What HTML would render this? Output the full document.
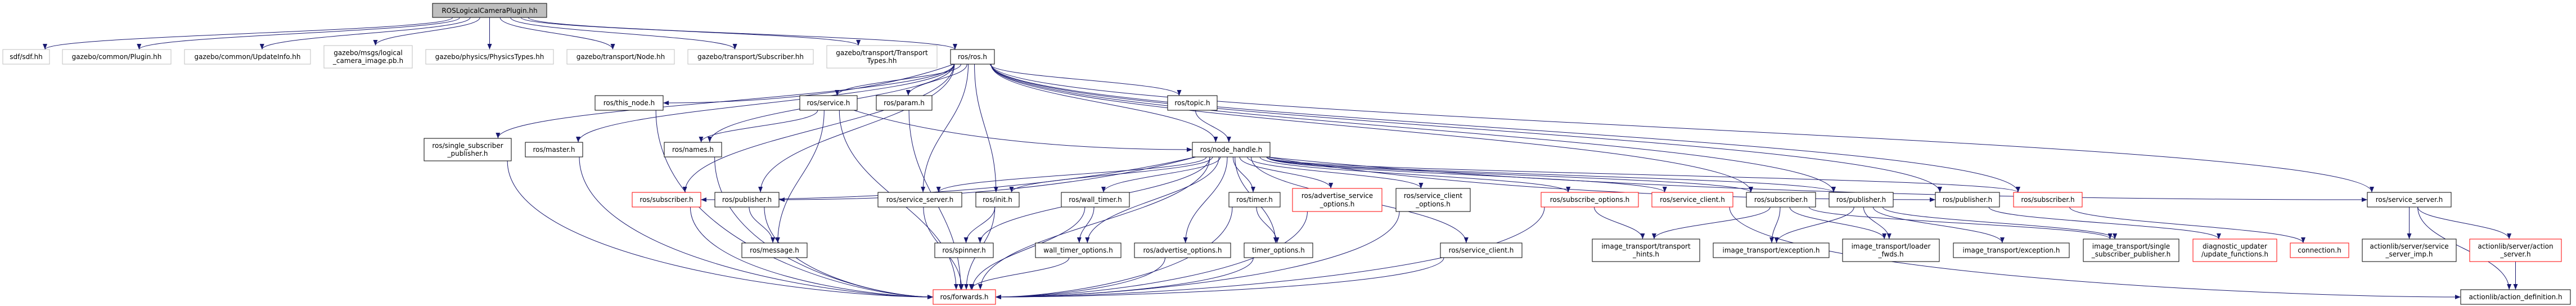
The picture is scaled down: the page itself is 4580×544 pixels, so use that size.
<!DOCTYPE html>
<html><head><meta charset="utf-8">
<style>
html,body{margin:0;padding:0;background:#fff;}
svg{display:block;}
text{font-family:"DejaVu Sans","Liberation Sans",sans-serif;font-size:12px;fill:#000;}
</style></head>
<body>
<svg id="g" width="4580" height="544" viewBox="0 0 4580 544" xmlns="http://www.w3.org/2000/svg">
<defs>
<marker id="ah" viewBox="0 0 10 10" refX="10" refY="5" markerWidth="10" markerHeight="10" markerUnits="userSpaceOnUse" orient="auto">
<path d="M0,1 L10,5 L0,9 z" fill="#191970"/>
</marker>
</defs>
<g id="edges" fill="none" stroke="#191970" stroke-width="1"></g>
<g id="nodes">
<rect x="769" y="6" width="203" height="25" fill="#bfbfbf" stroke="#000"/><text x="870.5" y="23" text-anchor="middle">ROSLogicalCameraPlugin.hh</text>

<rect x="5" y="88" width="83" height="26" fill="#fff" stroke="#bfbfbf"/><text x="46.5" y="105" text-anchor="middle">sdf/sdf.hh</text>
<rect x="111" y="88" width="193" height="26" fill="#fff" stroke="#bfbfbf"/><text x="207.5" y="105" text-anchor="middle">gazebo/common/Plugin.hh</text>
<rect x="328" y="88" width="224" height="26" fill="#fff" stroke="#bfbfbf"/><text x="440" y="105" text-anchor="middle">gazebo/common/UpdateInfo.hh</text>
<rect x="576" y="81" width="157" height="40" fill="#fff" stroke="#bfbfbf"/><text x="654.5" y="98" text-anchor="middle">gazebo/msgs/logical</text><text x="654.5" y="112" text-anchor="middle">_camera_image.pb.h</text>
<rect x="757" y="88" width="227" height="26" fill="#fff" stroke="#bfbfbf"/><text x="870.5" y="105" text-anchor="middle">gazebo/physics/PhysicsTypes.hh</text>
<rect x="1008" y="88" width="191" height="26" fill="#fff" stroke="#bfbfbf"/><text x="1103.5" y="105" text-anchor="middle">gazebo/transport/Node.hh</text>
<rect x="1223" y="88" width="223" height="26" fill="#fff" stroke="#bfbfbf"/><text x="1334.5" y="105" text-anchor="middle">gazebo/transport/Subscriber.hh</text>
<rect x="1470" y="81" width="196" height="40" fill="#fff" stroke="#bfbfbf"/><text x="1568" y="98" text-anchor="middle">gazebo/transport/Transport</text><text x="1568" y="112" text-anchor="middle">Types.hh</text>
<rect x="1690" y="88" width="78" height="26" fill="#fff" stroke="#000"/><text x="1729" y="105" text-anchor="middle">ros/ros.h</text>

<rect x="1058" y="170" width="121" height="26" fill="#fff" stroke="#000"/><text x="1118.5" y="187" text-anchor="middle">ros/this_node.h</text>
<rect x="1422" y="170" width="102" height="26" fill="#fff" stroke="#000"/><text x="1473" y="187" text-anchor="middle">ros/service.h</text>
<rect x="1558" y="170" width="99" height="26" fill="#fff" stroke="#000"/><text x="1607.5" y="187" text-anchor="middle">ros/param.h</text>
<rect x="2076" y="170" width="88" height="26" fill="#fff" stroke="#000"/><text x="2120" y="187" text-anchor="middle">ros/topic.h</text>

<rect x="754" y="246" width="155" height="40" fill="#fff" stroke="#000"/><text x="831.5" y="263" text-anchor="middle">ros/single_subscriber</text><text x="831.5" y="277" text-anchor="middle">_publisher.h</text>
<rect x="934" y="253" width="102" height="26" fill="#fff" stroke="#000"/><text x="985" y="270" text-anchor="middle">ros/master.h</text>
<rect x="1181" y="253" width="102" height="26" fill="#fff" stroke="#000"/><text x="1232" y="270" text-anchor="middle">ros/names.h</text>
<rect x="2120" y="253" width="138" height="26" fill="#fff" stroke="#000"/><text x="2189" y="270" text-anchor="middle">ros/node_handle.h</text>

<rect x="1124" y="342" width="122" height="26" fill="#fff" stroke="#ff0000"/><text x="1185" y="359" text-anchor="middle">ros/subscriber.h</text>
<rect x="1271" y="342" width="114" height="26" fill="#fff" stroke="#000"/><text x="1328" y="359" text-anchor="middle">ros/publisher.h</text>
<rect x="1561" y="342" width="149" height="26" fill="#fff" stroke="#000"/><text x="1635.5" y="359" text-anchor="middle">ros/service_server.h</text>
<rect x="1735" y="342" width="77" height="26" fill="#fff" stroke="#000"/><text x="1773.5" y="359" text-anchor="middle">ros/init.h</text>
<rect x="1887" y="342" width="121" height="26" fill="#fff" stroke="#000"/><text x="1947.5" y="359" text-anchor="middle">ros/wall_timer.h</text>
<rect x="2185" y="342" width="91" height="26" fill="#fff" stroke="#000"/><text x="2230.5" y="359" text-anchor="middle">ros/timer.h</text>
<rect x="2298" y="335" width="159" height="41" fill="#fff" stroke="#ff0000"/><text x="2377.5" y="352" text-anchor="middle">ros/advertise_service</text><text x="2377.5" y="367" text-anchor="middle">_options.h</text>
<rect x="2482" y="335" width="132" height="41" fill="#fff" stroke="#000"/><text x="2548" y="352" text-anchor="middle">ros/service_client</text><text x="2548" y="367" text-anchor="middle">_options.h</text>
<rect x="2740" y="342" width="173" height="26" fill="#fff" stroke="#ff0000"/><text x="2826.5" y="359" text-anchor="middle">ros/subscribe_options.h</text>
<rect x="2937" y="342" width="144" height="26" fill="#fff" stroke="#ff0000"/><text x="3009" y="359" text-anchor="middle">ros/service_client.h</text>
<rect x="3105" y="342" width="123" height="26" fill="#fff" stroke="#000"/><text x="3166.5" y="359" text-anchor="middle">ros/subscriber.h</text>
<rect x="3252" y="342" width="114" height="26" fill="#fff" stroke="#000"/><text x="3309" y="359" text-anchor="middle">ros/publisher.h</text>
<rect x="3441" y="342" width="114" height="26" fill="#fff" stroke="#000"/><text x="3498" y="359" text-anchor="middle">ros/publisher.h</text>
<rect x="3580" y="342" width="122" height="26" fill="#fff" stroke="#ff0000"/><text x="3641" y="359" text-anchor="middle">ros/subscriber.h</text>
<rect x="4209" y="342" width="149" height="26" fill="#fff" stroke="#000"/><text x="4283.5" y="359" text-anchor="middle">ros/service_server.h</text>

<rect x="1319" y="432" width="116" height="26" fill="#fff" stroke="#000"/><text x="1377" y="449" text-anchor="middle">ros/message.h</text>
<rect x="1662" y="432" width="104" height="26" fill="#fff" stroke="#000"/><text x="1714" y="449" text-anchor="middle">ros/spinner.h</text>
<rect x="1841" y="432" width="152" height="26" fill="#fff" stroke="#000"/><text x="1917" y="449" text-anchor="middle">wall_timer_options.h</text>
<rect x="2017" y="432" width="171" height="26" fill="#fff" stroke="#000"/><text x="2102.5" y="449" text-anchor="middle">ros/advertise_options.h</text>
<rect x="2212" y="432" width="122" height="26" fill="#fff" stroke="#000"/><text x="2273" y="449" text-anchor="middle">timer_options.h</text>
<rect x="2561" y="432" width="145" height="26" fill="#fff" stroke="#000"/><text x="2633.5" y="449" text-anchor="middle">ros/service_client.h</text>
<rect x="2831" y="425" width="191" height="40" fill="#fff" stroke="#000"/><text x="2926.5" y="442" text-anchor="middle">image_transport/transport</text><text x="2926.5" y="456" text-anchor="middle">_hints.h</text>
<rect x="3046" y="432" width="206" height="26" fill="#fff" stroke="#000"/><text x="3149" y="449" text-anchor="middle">image_transport/exception.h</text>
<rect x="3276" y="425" width="172" height="40" fill="#fff" stroke="#000"/><text x="3362" y="442" text-anchor="middle">image_transport/loader</text><text x="3362" y="456" text-anchor="middle">_fwds.h</text>
<rect x="3473" y="432" width="206" height="26" fill="#fff" stroke="#000"/><text x="3576" y="449" text-anchor="middle">image_transport/exception.h</text>
<rect x="3704" y="425" width="170" height="40" fill="#fff" stroke="#000"/><text x="3789" y="442" text-anchor="middle">image_transport/single</text><text x="3789" y="456" text-anchor="middle">_subscriber_publisher.h</text>
<rect x="3899" y="425" width="149" height="40" fill="#fff" stroke="#ff0000"/><text x="3973.5" y="442" text-anchor="middle">diagnostic_updater</text><text x="3973.5" y="456" text-anchor="middle">/update_functions.h</text>
<rect x="4072" y="432" width="104" height="26" fill="#fff" stroke="#ff0000"/><text x="4124" y="449" text-anchor="middle">connection.h</text>
<rect x="4200" y="425" width="167" height="40" fill="#fff" stroke="#000"/><text x="4283.5" y="442" text-anchor="middle">actionlib/server/service</text><text x="4283.5" y="456" text-anchor="middle">_server_imp.h</text>
<rect x="4391" y="425" width="163" height="40" fill="#fff" stroke="#ff0000"/><text x="4472.5" y="442" text-anchor="middle">actionlib/server/action</text><text x="4472.5" y="456" text-anchor="middle">_server.h</text>

<rect x="1659" y="515" width="111" height="26" fill="#fff" stroke="#ff0000"/><text x="1714.5" y="532" text-anchor="middle">ros/forwards.h</text>
<rect x="4375" y="515" width="195" height="26" fill="#fff" stroke="#000"/><text x="4472.5" y="532" text-anchor="middle">actionlib/action_definition.h</text>
</g>
</svg>
<script>
var N={
A:[769,972,6,31],sdf:[5,88,88,114],plugin:[111,304,88,114],update:[328,552,88,114],msgs:[576,733,81,121],
phys:[757,984,88,114],node:[1008,1199,88,114],tsub:[1223,1446,88,114],ttypes:[1470,1666,81,121],ros:[1690,1768,88,114],
thisnode:[1058,1179,170,196],service:[1422,1524,170,196],param:[1558,1657,170,196],topic:[2076,2164,170,196],
ssp:[754,909,246,286],master:[934,1036,253,279],names:[1181,1283,253,279],nh:[2120,2258,253,279],
sub1:[1124,1246,342,368],pub1:[1271,1385,342,368],ss1:[1561,1710,342,368],init:[1735,1812,342,368],wt:[1887,2008,342,368],
timer:[2185,2276,342,368],aso:[2298,2457,335,376],sco:[2482,2614,335,376],subopt:[2740,2913,342,368],sc1:[2937,3081,342,368],
sub2:[3105,3228,342,368],pub2:[3252,3366,342,368],pub3:[3441,3555,342,368],sub3:[3580,3702,342,368],ss2:[4209,4358,342,368],
msg:[1319,1435,432,458],spin:[1662,1766,432,458],wto:[1841,1993,432,458],ao:[2017,2188,432,458],to:[2212,2334,432,458],
sc2:[2561,2706,432,458],th:[2831,3022,425,465],exc1:[3046,3252,432,458],lf:[3276,3448,425,465],exc2:[3473,3679,432,458],
sspub:[3704,3874,425,465],diag:[3899,4048,425,465],conn:[4072,4176,432,458],ssimp:[4200,4367,425,465],as:[4391,4554,425,465],
fwd:[1659,1770,515,541],ad:[4375,4570,515,541]};
var E=[
['A','sdf'],['A','plugin'],['A','update'],['A','msgs'],['A','phys'],['A','node'],['A','tsub'],['A','ttypes'],['A','ros'],
['ros','thisnode','R'],['ros','ssp'],['ros','master'],['ros','names'],['ros','service'],['ros','param'],['ros','topic'],['ros','nh'],
['ros','sub1'],['ros','pub1'],['ros','ss1'],['ros','init'],['ros','sub2'],['ros','pub2'],['ros','pub3'],['ros','sub3'],['ros','ss2'],
['service','names'],['service','msg'],['service','fwd'],['service','nh','L'],['param','fwd'],['topic','nh'],['names','fwd','S'],
['thisnode','fwd','S'],['master','fwd','S'],['ssp','fwd','S'],
['nh','sub1','R'],['nh','pub1','R'],['nh','ss1'],['nh','init'],['nh','spin'],['nh','wt'],['nh','wto'],['nh','timer'],['nh','to'],['nh','ao'],
['nh','aso'],['nh','sco'],['nh','sc2'],['nh','subopt'],['nh','sc1'],['nh','sub2'],['nh','pub2'],['nh','pub3','L'],['nh','sub3'],['nh','ss2','L'],['nh','fwd'],
['sub1','fwd','S'],['pub1','msg'],['pub1','fwd','S'],['ss1','fwd'],['init','spin'],['init','fwd'],['wt','wto'],['wt','fwd'],['timer','to'],['timer','fwd','S'],
['wto','fwd'],['ao','fwd','S'],['to','fwd','S'],['aso','fwd','S'],['sco','fwd','S'],['sc2','fwd','S'],['subopt','fwd','S'],['subopt','th'],['sc1','ad','S'],
['sub2','th'],['sub2','exc1'],['sub2','lf'],['sub2','sspub'],['pub2','exc1'],['pub2','lf'],['pub2','exc2'],['pub2','sspub'],
['pub3','diag'],['sub3','conn'],['ss2','ssimp'],['ss2','as'],['ss2','ad'],['as','ad']];
var g=document.getElementById('edges'),s='';
function cl(v,a,b){return Math.max(a,Math.min(b,v));}
E.forEach(function(e){
 var a=N[e[0]],b=N[e[1]],m=e[2]||'';
 var acx=(a[0]+a[1])/2,bcx=(b[0]+b[1])/2;
 var x1,y1,x2,y2,d;
 if(m==='R'||m==='L'){
  // enter target from its side
  x1=cl(acx+(bcx-acx)*0.1,a[0]+6,a[1]-6);y1=a[3];
  x2=(bcx<acx)?b[1]:b[0];y2=(b[2]+b[3])/2;
  d='M'+x1+','+y1+' C'+(x1+(x2-x1)*0.3)+','+(y1+(y2-y1)*0.8)+' '+(x2+(x1-x2)*0.3)+','+y2+' '+x2+','+y2;
 } else if(m==='S'){
  x1=cl(acx+(bcx-acx)*0.08,a[0]+6,a[1]-6);y1=a[3];
  x2=(bcx<acx)?b[1]:b[0];y2=(b[2]+b[3])/2;
  var dy=y2-y1;
  d='M'+x1+','+y1+' C'+x1+','+(y1+dy*0.7)+' '+(x2+(x1-x2)*0.3)+','+y2+' '+x2+','+y2;
 } else {
  x1=cl(acx+(bcx-acx)*0.08,a[0]+6,a[1]-6);y1=a[3];
  x2=cl(bcx+(acx-bcx)*0.06,b[0]+8,b[1]-8);y2=b[2];
  var dy=y2-y1;
  d='M'+x1+','+y1+' C'+x1+','+(y1+dy*0.45)+' '+x2+','+(y2-dy*0.45)+' '+x2+','+y2;
 }
 s+='<path d="'+d+'" marker-end="url(#ah)"/>';
});
g.innerHTML=s;
</script>
</body></html>
